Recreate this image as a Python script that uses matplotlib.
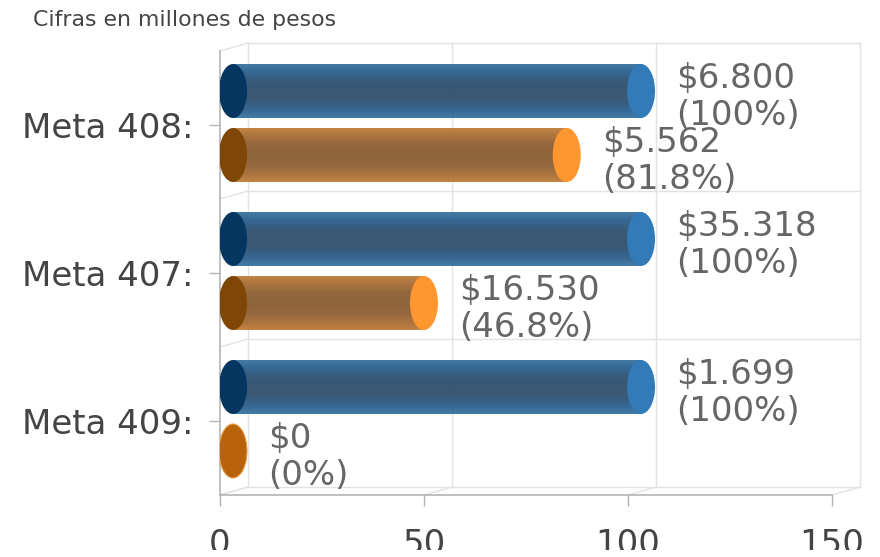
import numpy as np
import matplotlib
matplotlib.use("Agg")
import matplotlib.pyplot as plt
from matplotlib.colors import LinearSegmentedColormap
from matplotlib.patches import Ellipse
from matplotlib.transforms import Bbox

metas = ["Meta 408:", "Meta 407:", "Meta 409:"]
programado_pct = [100, 100, 100]
ejecutado_pct = [81.8, 46.8, 0]
programado_txt = ["$6.800", "$35.318", "$1.699"]
ejecutado_txt = ["$5.562", "$16.530", "$0"]
x_ticks = [0, 50, 100, 150]
title = "Cifras en millones de pesos"

W, H = 880, 557
fig = plt.figure(figsize=(W / 100, H / 100), dpi=100)
# front plane of the fake 3d box, pixels from the picture
left, right, top, bottom = 220, 832, 51, 495
ax = fig.add_axes([left / W, 1 - bottom / H, (right - left) / W, (bottom - top) / H])
ax.set_xlim(0, 150)
ax.set_ylim(3, 0)
ax.set_facecolor("none")

ux = (right - left) / 150.0
uy = (bottom - top) / 3.0
dx = 28 / ux   # depth of the box
dy = -8 / uy
shift = 13 / ux
bar_h = 54 / uy
ell_w = 28 / ux

grid = "#e2e2e2"
for v in x_ticks:
    ax.plot([v + dx, v + dx], [dy, 3 + dy], color=grid, lw=1, clip_on=False, zorder=1)
    ax.plot([v, v + dx], [3, 3 + dy], color=grid, lw=1, clip_on=False, zorder=1)
for y in range(4):
    ax.plot([dx, 150 + dx], [y + dy, y + dy], color=grid, lw=1, clip_on=False, zorder=1)
    ax.plot([0, dx], [y, y + dy], color=grid, lw=1, clip_on=False, zorder=1)

for s in ["top", "right"]:
    ax.spines[s].set_visible(False)
for s in ["left", "bottom"]:
    ax.spines[s].set_color("#b4b4b4")
    ax.spines[s].set_linewidth(1.2)

ax.set_xticks(x_ticks)
ax.set_yticks([0.5, 1.5, 2.5])
ax.set_yticklabels(metas)
ax.tick_params(axis="x", length=8, width=1, color="#b4b4b4", labelsize=24.5,
               labelcolor="#444444", pad=16)
ax.tick_params(axis="y", length=8, width=1, color="#b4b4b4", labelsize=24.5,
               labelcolor="#444444", pad=11)
# the reference cuts the tick numbers off at y=550
for lab in ax.get_xticklabels():
    lab.set_clip_box(Bbox([[0, H - 550], [W, H]]))
    lab.set_clip_on(True)

blue_cm = LinearSegmentedColormap.from_list("b", ["#3f76a2", "#2f6290", "#325778", "#34526e", "#34526e", "#325778", "#2f6290", "#3f76a2"])
orange_cm = LinearSegmentedColormap.from_list("o", ["#c08040", "#a96e38", "#936338", "#8e6034", "#8e6034", "#936338", "#a96e38", "#c08040"])
ramp = np.linspace(0, 1, 64).reshape(-1, 1)


def cylinder(y, v, cm, edge, cap_left, cap_right, zero):
    x0 = shift
    x1 = shift + v
    if v > 0:
        ax.imshow(ramp, cmap=cm, aspect="auto", extent=[x0, x1, y + bar_h / 2, y - bar_h / 2],
                  alpha=0.97, zorder=3, interpolation="bilinear")
        ax.add_patch(Ellipse((x0, y), ell_w, bar_h, fc=cap_left, ec="none", zorder=4))
        ax.add_patch(Ellipse((x1, y), ell_w, bar_h, fc=cap_right, ec="none", zorder=4))
    else:
        ax.add_patch(Ellipse((x0, y), ell_w, bar_h, fc=zero, ec=edge, lw=0.8, zorder=4))


def value_label(y, v, txt, pct):
    pct_txt = "(%s%%)" % (("%.1f" % pct) if pct != int(pct) else int(pct))
    ax.annotate(txt + "\n" + pct_txt, (shift + v, y), xytext=(35, -6), textcoords="offset pixels",
                fontsize=24.5, color="#666666", va="center", ha="left", linespacing=1.16,
                annotation_clip=False, zorder=5)


for i in range(len(metas)):
    yb = i + 0.5 - 34 / uy
    yo = i + 0.5 + 30 / uy
    cylinder(yb, programado_pct[i], blue_cm, "#2f6592", "#05365f", "#327ab8", None)
    cylinder(yo, ejecutado_pct[i], orange_cm, "#e8a040", "#7f4706", "#ff9730", "#b8620c")
    value_label(yb, programado_pct[i], programado_txt[i], programado_pct[i])
    value_label(yo, ejecutado_pct[i], ejecutado_txt[i], ejecutado_pct[i])

ax.set_xlim(0, 150)
ax.set_ylim(3, 0)
fig.text(33 / W, 1 - 20 / H, title, fontsize=15.8, color="#444444", va="center", ha="left")
fig.savefig("out.png", dpi=100)
